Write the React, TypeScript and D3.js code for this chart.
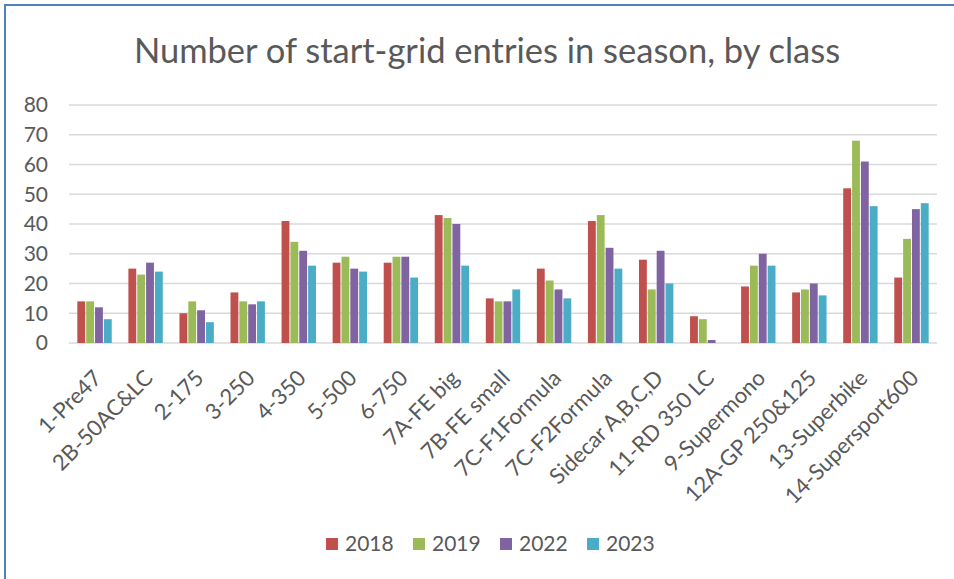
import React, { useEffect, useRef } from 'react';
import * as d3 from 'd3';

const categories = [
  '1-Pre47', '2B-50AC&LC', '2-175', '3-250', '4-350', '5-500', '6-750',
  '7A-FE big', '7B-FE small', '7C-F1Formula', '7C-F2Formula', 'Sidecar A,B,C,D',
  '11-RD 350 LC', '9-Supermono', '12A-GP 250&125', '13-Superbike', '14-Supersport600',
];
const seriesNames = ['2018', '2019', '2022', '2023'];
const colors = ['#C0504D', '#9BBB59', '#8064A2', '#4BACC6'];

const v2018 = [14, 25, 10, 17, 41, 27, 27, 43, 15, 25, 41, 28, 9, 19, 17, 52, 22];
const v2019 = [14, 23, 14, 14, 34, 29, 29, 42, 14, 21, 43, 18, 8, 26, 18, 68, 35];
const v2022 = [12, 27, 11, 13, 31, 25, 29, 40, 14, 18, 32, 31, 1, 30, 20, 61, 45];
const v2023 = [8, 24, 7, 14, 26, 24, 22, 26, 18, 15, 25, 20, 0, 26, 16, 46, 47];
const yTicks = [0, 10, 20, 30, 40, 50, 60, 70, 80];

const title = 'Number of start-grid entries in season, by class';
const FONT = 'Lato, "Open Sans", sans-serif';

export default function App() {
  const svgRef = useRef<SVGSVGElement>(null);

  useEffect(() => {
    const width = 954;
    const height = 579;
    const left = 69, right = 937, top = 105, bottom = 343;
    const values = [v2018, v2019, v2022, v2023];

    const svg = d3.select(svgRef.current);
    svg.selectAll('*').remove();
    svg.attr('width', width).attr('height', height);

    svg.append('rect').attr('width', width).attr('height', height).attr('fill', '#fff');
    // frame of the chart (extends past the picture)
    svg.append('rect')
      .attr('x', 5).attr('y', 5).attr('width', 1000).attr('height', 1000)
      .attr('fill', 'none').attr('stroke', '#4F81BD').attr('stroke-width', 2);

    const x0 = d3.scaleBand().domain(categories).range([left, right])
      .paddingInner(0.307).paddingOuter(0.1535);
    const x1 = d3.scaleBand().domain(seriesNames).range([0, x0.bandwidth()]);
    const y = d3.scaleLinear().domain([0, 80]).range([bottom, top]);

    svg.append('text')
      .attr('x', 487).attr('y', 63)
      .attr('text-anchor', 'middle')
      .attr('font-family', FONT).attr('font-size', 34.5)
      .attr('fill', '#595959')
      .text(title);

    // gridlines
    svg.append('g').selectAll('line').data(yTicks).enter().append('line')
      .attr('x1', left).attr('x2', right)
      .attr('y1', d => y(d)).attr('y2', d => y(d))
      .attr('stroke', '#D9D9D9').attr('stroke-width', 1.5);

    svg.append('g').selectAll('text').data(yTicks).enter().append('text')
      .attr('x', 48).attr('y', d => y(d)).attr('dy', '0.35em')
      .attr('text-anchor', 'end')
      .attr('font-family', FONT).attr('font-size', 21)
      .attr('fill', '#595959')
      .text(d => d);

    // bars
    const groups = svg.append('g').selectAll('g').data(categories).enter().append('g')
      .attr('transform', d => `translate(${x0(d)},0)`);
    groups.selectAll('rect')
      .data((_, i) => seriesNames.map((s, k) => ({ s, v: values[k][i], c: colors[k] })))
      .enter().append('rect')
      .attr('x', d => (x1(d.s) as number) + 0.5)
      .attr('width', x1.bandwidth() - 1)
      .attr('y', d => y(d.v))
      .attr('height', d => y(0) - y(d.v))
      .attr('fill', d => d.c);

    // category labels
    svg.append('g').selectAll('text').data(categories).enter().append('text')
      .attr('transform', d => `translate(${(x0(d) as number) + x0.bandwidth() / 2 + 3},374) rotate(-45)`)
      .attr('dy', '0.35em')
      .attr('text-anchor', 'end')
      .attr('font-family', FONT).attr('font-size', 22)
      .attr('fill', '#595959')
      .text(d => d);

    // legend
    const lg = svg.append('g').selectAll('g').data(seriesNames).enter().append('g')
      .attr('transform', (_, i) => `translate(${326 + i * 87},544)`);
    lg.append('rect').attr('x', 0).attr('y', -6).attr('width', 12).attr('height', 12)
      .attr('fill', (_, i) => colors[i]);
    lg.append('text').attr('x', 19).attr('y', 0).attr('dy', '0.35em')
      .attr('font-family', FONT).attr('font-size', 21)
      .attr('fill', '#595959')
      .text(d => d);
  }, []);

  return <svg ref={svgRef} style={{ position: 'absolute', left: 0, top: 0, display: 'block' }} />;
}
